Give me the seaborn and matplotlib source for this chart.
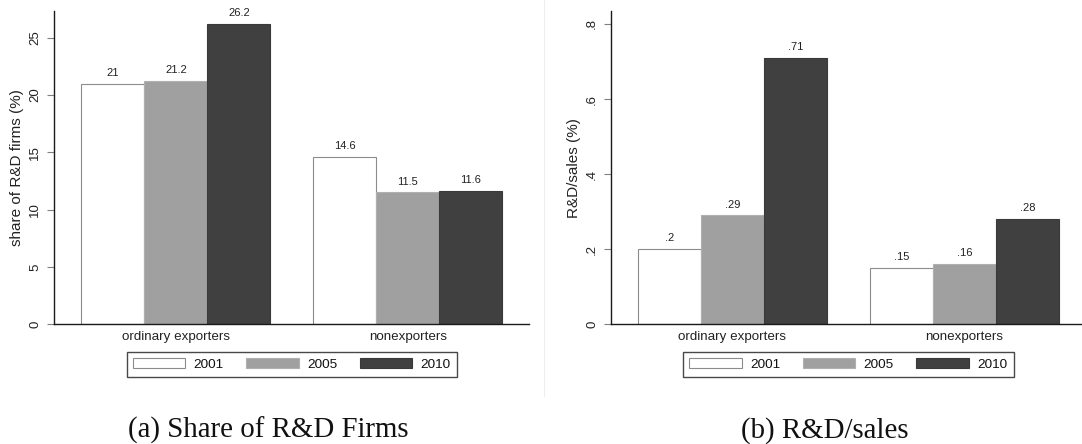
import pandas as pd
import matplotlib
matplotlib.use("Agg")
import matplotlib.pyplot as plt
from matplotlib.lines import Line2D
from matplotlib.ticker import FuncFormatter
import seaborn as sns

# Data
groups = ["ordinary exporters", "nonexporters"]
years = ["2001", "2005", "2010"]
share_rd = {"2001": [21.0, 14.6], "2005": [21.2, 11.5], "2010": [26.2, 11.6]}
rd_sales = {"2001": [0.20, 0.15], "2005": [0.29, 0.16], "2010": [0.71, 0.28]}

fills = ["#ffffff", "#a0a0a0", "#404040"]
edges = ["#8c8c8c", "#b0b0b0", "#3a3a3a"]

sns.set_style("white")
plt.rcParams["font.family"] = ["Liberation Sans", "DejaVu Sans"]


def to_long(d):
    rows = []
    for y in years:
        for g, v in zip(groups, d[y]):
            rows.append({"group": g, "year": y, "value": v})
    return pd.DataFrame(rows)


def stata_num(v):
    s = f"{v:g}"
    if s.startswith("0."):
        s = s[1:]
    return s


fig = plt.figure(figsize=(10.82, 4.44), dpi=100)
ax1 = fig.add_axes([0.0502, 0.2696, 0.4390, 0.7056])
ax2 = fig.add_axes([0.5647, 0.2696, 0.4388, 0.7056])

panels = [
    (ax1, share_rd, "share of R&D firms (%)", 27.33, [0, 5, 10, 15, 20, 25]),
    (ax2, rd_sales, "R&D/sales (%)", 0.8346, [0, 0.2, 0.4, 0.6, 0.8]),
]

for ax, d, ylab, ytop, yticks in panels:
    df = to_long(d)
    sns.barplot(data=df, x="group", y="value", hue="year", order=groups,
                hue_order=years, palette=fills, saturation=1, width=0.815,
                legend=False, ax=ax)
    for cont, ec in zip(ax.containers, edges):
        for p in cont:
            p.set_edgecolor(ec)
            p.set_linewidth(0.8)
        ax.bar_label(cont, labels=[stata_num(p.get_height()) for p in cont],
                     padding=4.2, fontsize=8, color="#222222")

    ax.set_xlim(-0.524, 1.524)
    ax.set_ylim(0, ytop)
    ax.set_yticks(yticks)
    ax.yaxis.set_major_formatter(FuncFormatter(lambda v, pos: stata_num(round(v, 4))))
    ax.tick_params(axis="y", length=5, width=0.8, color="#808080", pad=4.3,
                   labelsize=9.5, labelcolor="#222222", left=True)
    for lab in ax.get_yticklabels():
        lab.set_rotation(90)
        lab.set_va("center")
    ax.tick_params(axis="x", length=0, pad=5, labelsize=9.6, labelcolor="#222222")
    ax.set_xlabel("")
    ax.set_ylabel(ylab, fontsize=11, color="#222222", labelpad=4)

    for s in ["top", "right"]:
        ax.spines[s].set_visible(False)
    for s in ["left", "bottom"]:
        ax.spines[s].set_color("#1a1a1a")
        ax.spines[s].set_linewidth(1.0)

    leg = ax.legend(ax.containers, years, loc="center", bbox_to_anchor=(0.5, -0.1274),
                    ncol=3, fontsize=9.7, frameon=True, fancybox=False,
                    handlelength=3.9, handleheight=0.84, handletextpad=0.62,
                    columnspacing=1.67, borderpad=0.45)
    leg.get_frame().set_edgecolor("#1a1a1a")
    leg.get_frame().set_linewidth(1.0)
    for t in leg.get_texts():
        t.set_color("#111111")

# faint panel border from the source image
fig.add_artist(Line2D([543.7 / 1082, 543.7 / 1082], [48 / 444, 1.0],
                      transform=fig.transFigure, color="#eeeeee", lw=0.8))

fig.text(0.2477, 0.0151, "(a) Share of R&D Firms", ha="center", va="baseline",
         fontsize=20.8, family=["Liberation Serif", "DejaVu Serif"], color="#111111")
fig.text(0.7620, 0.0151, "(b) R&D/sales", ha="center", va="baseline",
         fontsize=20.8, family=["Liberation Serif", "DejaVu Serif"], color="#111111")

fig.savefig("out.png", dpi=100)
